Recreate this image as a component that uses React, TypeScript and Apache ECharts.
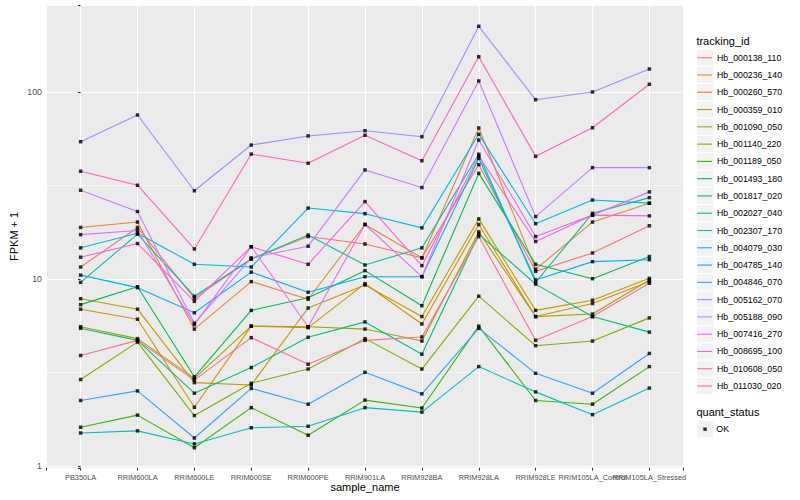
import React, { useEffect, useRef } from "react";
import * as echarts from "echarts";

// ---------- data ----------
const samples = [
  "PB350LA", "RRIM600LA", "RRIM600LE", "RRIM600SE", "RRIM600PE", "RRIM901LA",
  "RRIM928BA", "RRIM928LA", "RRIM928LE", "RRIM105LA_Control", "RRIM105LA_Stressed",
];

const trackingIds = [
  "Hb_000138_110", "Hb_000236_140", "Hb_000260_570", "Hb_000359_010", "Hb_001090_050",
  "Hb_001140_220", "Hb_001189_050", "Hb_001493_180", "Hb_001817_020", "Hb_002027_040",
  "Hb_002307_170", "Hb_004079_030", "Hb_004785_140", "Hb_004846_070", "Hb_005162_070",
  "Hb_005188_090", "Hb_007416_270", "Hb_008695_100", "Hb_010608_050", "Hb_011030_020",
];

// FPKM + 1 per sample (same order as samples)
const Hb_000138_110 = [11.6, 18.9, 7.9, 12.8, 16.9, 15.4, 13.0, 41.0, 11.0, 13.8, 19.3];
const Hb_000236_140 = [18.9, 20.2, 5.4, 9.7, 7.8, 19.6, 13.0, 64.4, 11.3, 20.2, 25.5];
const Hb_000260_570 = [6.9, 6.1, 2.06, 5.6, 5.5, 9.45, 5.75, 19.6, 6.3, 7.4, 9.7];
const Hb_000359_010 = [7.85, 6.9, 2.79, 2.71, 7.0, 9.3, 6.3, 21.0, 6.8, 7.7, 10.1];
const Hb_001090_050 = [5.56, 4.8, 2.94, 5.6, 5.56, 5.4, 4.66, 17.9, 6.3, 6.5, 9.9];
const Hb_001140_220 = [2.9, 4.6, 1.86, 2.77, 3.3, 4.8, 3.3, 8.1, 4.4, 4.66, 6.2];
const Hb_001189_050 = [1.61, 1.87, 1.25, 2.05, 1.46, 2.25, 2.04, 5.6, 2.24, 2.14, 3.4];
const Hb_001493_180 = [7.3, 9.1, 3.0, 6.8, 7.95, 11.1, 7.2, 36.8, 12.0, 10.05, 13.2];
const Hb_001817_020 = [5.45, 4.7, 2.45, 3.36, 4.88, 5.9, 3.96, 17.4, 9.4, 6.3, 5.2];
const Hb_002027_040 = [9.6, 17.4, 8.1, 12.8, 17.2, 11.9, 14.7, 46.6, 9.6, 22.5, 27.3];
const Hb_002307_170 = [1.5, 1.54, 1.31, 1.6, 1.63, 2.05, 1.94, 3.4, 2.49, 1.88, 2.61];
const Hb_004079_030 = [14.7, 17.6, 12.0, 11.6, 24.0, 22.4, 18.8, 59.6, 19.8, 26.5, 25.5];
const Hb_004785_140 = [10.5, 9.0, 6.6, 10.9, 8.5, 10.3, 10.3, 44.3, 9.9, 12.4, 12.7];
const Hb_004846_070 = [2.24, 2.52, 1.41, 2.6, 2.14, 3.17, 2.43, 5.45, 3.13, 2.45, 4.0];
const Hb_005162_070 = [54.4, 75.6, 29.7, 52.2, 58.4, 62.3, 57.8, 225.6, 91.3, 100.4, 133.3];
const Hb_005188_090 = [29.9, 23.0, 5.8, 13.0, 15.0, 38.4, 30.9, 115.0, 21.6, 39.5, 39.5];
const Hb_007416_270 = [17.3, 18.2, 5.7, 14.9, 5.56, 19.6, 10.3, 55.5, 16.9, 22.0, 29.3];
const Hb_008695_100 = [13.1, 15.5, 7.6, 14.9, 12.0, 26.0, 11.8, 45.6, 15.9, 22.0, 21.8];
const Hb_010608_050 = [37.8, 31.8, 14.5, 46.7, 41.7, 58.9, 43.0, 155.1, 45.4, 64.6, 110.4];
const Hb_011030_020 = [3.9, 4.7, 2.88, 4.86, 3.5, 4.7, 4.9, 16.9, 4.7, 6.3, 9.5];

const seriesValues = [
  Hb_000138_110, Hb_000236_140, Hb_000260_570, Hb_000359_010, Hb_001090_050,
  Hb_001140_220, Hb_001189_050, Hb_001493_180, Hb_001817_020, Hb_002027_040,
  Hb_002307_170, Hb_004079_030, Hb_004785_140, Hb_004846_070, Hb_005162_070,
  Hb_005188_090, Hb_007416_270, Hb_008695_100, Hb_010608_050, Hb_011030_020,
];

const quantStatus = ["OK"];
const yTickLabels = [1, 10, 100];
const yMinorTicks = [3.1623, 31.623];

// ---------- style ----------
const palette = [
  "#F8766D", "#EA8331", "#D89000", "#C09B00", "#A3A500", "#7CAE00", "#39B600",
  "#00BB4E", "#00BF7D", "#00C1A3", "#00BFC4", "#00BAE0", "#00B0F6", "#35A2FF",
  "#9590FF", "#C77CFF", "#E76BF3", "#FA62DB", "#FF62BC", "#FF6C91",
];
const FONT = "Liberation Sans, Arial, Helvetica, sans-serif";
const KEY = 17.28;
const LEG_X = 696.4;
const LEG_FIRST = 57.7;

export default function App() {
  const ref = useRef<HTMLDivElement>(null);

  useEffect(() => {
    if (!ref.current) return;
    const chart = echarts.init(ref.current, undefined, { renderer: "svg" });

    const lineSeries = trackingIds.map((id, k) => ({
      type: "line",
      name: id,
      data: seriesValues[k].map((v, i) => [i, v]),
      showSymbol: false,
      symbol: "none",
      lineStyle: { width: 1.1, color: palette[k] },
      itemStyle: { color: palette[k] },
      z: 2,
      silent: true,
    }));

    const pointSeries = {
      type: "scatter",
      name: quantStatus[0],
      data: seriesValues.flatMap((vals) => vals.map((v, i) => [i, v])),
      symbol: "rect",
      symbolSize: 3.5,
      itemStyle: { color: "#000000" },
      z: 4,
      silent: true,
      markLine: {
        z: 1,
        silent: true,
        symbol: ["none", "none"],
        label: { show: false },
        lineStyle: { color: "#FFFFFF", width: 0.55, type: "solid" },
        data: yMinorTicks.map((v) => ({ yAxis: v })),
      },
    };

    const keyBoxes: any[] = trackingIds.map((_, i) => ({
      type: "rect",
      shape: { x: LEG_X, y: LEG_FIRST + i * KEY - KEY / 2, width: KEY, height: KEY },
      style: { fill: "#F2F2F2", stroke: "#FFFFFF", lineWidth: 1 },
      z: 0,
    }));
    keyBoxes.push({
      type: "rect",
      shape: { x: LEG_X, y: 429.2 - KEY / 2, width: KEY, height: KEY },
      style: { fill: "#F2F2F2", stroke: "#FFFFFF", lineWidth: 1 },
      z: 0,
    });

    chart.setOption({
      animation: false,
      backgroundColor: "#FFFFFF",
      textStyle: { fontFamily: FONT },
      grid: {
        left: 40,
        right: 116.5,
        top: 5,
        bottom: 32.2,
        show: true,
        backgroundColor: "#EBEBEB",
        borderWidth: 0,
      },
      xAxis: {
        type: "value",
        min: -0.6,
        max: 10.6,
        minInterval: 1,
        maxInterval: 1,
        name: "sample_name",
        nameLocation: "middle",
        nameGap: 14,
        nameMoveOverlap: false,
        nameTextStyle: { fontSize: 11, color: "#000000", fontFamily: FONT },
        axisLine: { show: false },
        axisTick: { show: true, length: 2.75, lineStyle: { color: "#333333", width: 1.07 } },
        axisLabel: {
          fontSize: 7.4,
          color: "#4D4D4D",
          margin: 6.5,
          fontFamily: FONT,
          formatter: (v: number) => {
            const i = Math.round(v);
            return Math.abs(v - i) < 1e-6 && i >= 0 && i < samples.length ? samples[i] : "";
          },
        },
        splitLine: { show: true, lineStyle: { color: "#FFFFFF", width: 1.07 } },
      },
      yAxis: {
        type: "log",
        logBase: 10,
        min: 0.9768,
        max: 293.3,
        name: "FPKM + 1",
        nameLocation: "middle",
        nameGap: 27.5,
        nameMoveOverlap: false,
        nameTextStyle: { fontSize: 11, color: "#000000", fontFamily: FONT },
        axisLine: { show: false },
        axisTick: { show: true, length: 2.75, lineStyle: { color: "#333333", width: 1.07 } },
        axisLabel: {
          fontSize: 8.8,
          color: "#4D4D4D",
          margin: 4.5,
          formatter: (v: number) => {
            const m = yTickLabels.find((t) => Math.abs(t - v) / t < 1e-6);
            return m !== undefined ? String(m) : "";
          },
        },
        splitLine: { show: true, lineStyle: { color: "#FFFFFF", width: 1.07 } },
      },
      legend: [
        {
          data: trackingIds,
          orient: "vertical",
          left: LEG_X + 0.9,
          top: LEG_FIRST - KEY / 2,
          padding: 0,
          itemGap: 0,
          itemWidth: 14.7,
          itemHeight: 1.1,
          icon: "rect",
          selectedMode: false,
          textStyle: { fontSize: 8.8, color: "#000000", lineHeight: KEY, fontFamily: FONT },
        },
        {
          data: quantStatus,
          orient: "vertical",
          left: LEG_X + KEY / 2 - 1.75,
          top: 429.2 - KEY / 2,
          padding: 0,
          itemGap: 0,
          itemWidth: 3.5,
          itemHeight: 3.5,
          icon: "rect",
          selectedMode: false,
          textStyle: { fontSize: 8.8, color: "#000000", lineHeight: KEY, fontFamily: FONT, padding: [0, 0, 0, 4.5] },
        },
      ],
      graphic: [
        ...keyBoxes,
        {
          type: "text",
          x: LEG_X,
          y: 40.7,
          style: { text: "tracking_id", fontSize: 11, fill: "#000000", fontFamily: FONT, verticalAlign: "middle" },
          z: 1,
        },
        {
          type: "text",
          x: LEG_X,
          y: 412.3,
          style: { text: "quant_status", fontSize: 11, fill: "#000000", fontFamily: FONT, verticalAlign: "middle" },
          z: 1,
        },
      ],
      series: [...lineSeries, pointSeries],
    });

    return () => chart.dispose();
  }, []);

  return (
    <div
      ref={ref}
      style={{ position: "fixed", left: 0, top: 0, width: 800, height: 500 }}
    />
  );
}
